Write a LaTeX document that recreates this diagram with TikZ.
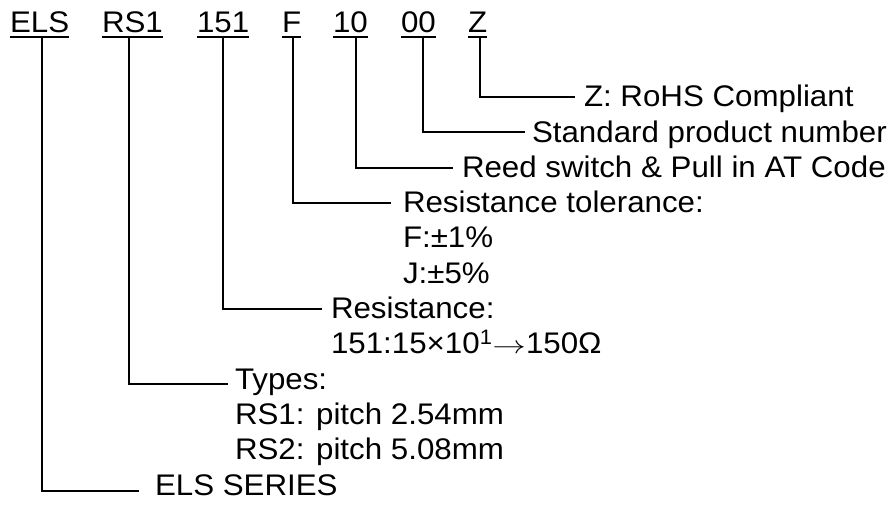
\documentclass[tikz,border=0pt]{standalone}
\usepackage{fontspec}
\setmainfont[FakeStretch=1.05]{Liberation Sans}
\begin{document}
\begin{tikzpicture}[x=1pt,y=-1pt,
  lbl/.style={inner sep=0pt,outer sep=0pt,anchor=base west,font=\fontsize{29.8}{35}\selectfont},
  conn/.style={line width=2pt,line cap=rect},
  uline/.style={line width=2.6pt}]
\useasboundingbox[fill=white] (0,0) rectangle (895,504);
% code labels
\node[lbl] (cELS) at (10,32.5) {ELS};
\node[lbl] (cRS)  at (102,32.5) {RS1};
\node[lbl] (c151) at (197,32.5) {151};
\node[lbl] (cF)   at (282,32.5) {F};
\node[lbl] (c10)  at (333,32.5) {10};
\node[lbl] (c00)  at (401,32.5) {00};
\node[lbl] (cZ)   at (468,32.5) {Z};
\foreach \n in {cELS,cRS,c151,cF,c10,c00,cZ}
  \draw[uline] ([yshift=-4.3pt]\n.base west) -- ([yshift=-4.3pt]\n.base east);
% descriptions
\node[lbl] (dZ)   at (584,106.7) {Z: RoHS Compliant};
\node[lbl] (dStd) at (532,142.0) {Standard product number};
\node[lbl] (dRd)  at (462,177.3) {Reed switch \& Pull in AT Code};
\node[lbl] (dTol) at (403,212.6) {Resistance tolerance:};
\node[lbl] (dTolF) at (403,247.9) {F:±1\%};
\node[lbl] (dTolJ) at (403,283.2) {J:±5\%};
\node[lbl] (dRes) at (331,318.5) {Resistance:};
\node[lbl] (dResV) at (331,353.8) {151:15×10\textsuperscript{1}\scalebox{1.35}[1]{$\rightarrow$}150Ω};
\node[lbl] (dTyp) at (235,389.1) {Types:};
\node[lbl] (dTyp1) at (235,424.4) {RS1: pitch 2.54mm};
\node[lbl] (dTyp2) at (235,459.7) {RS2: pitch 5.08mm};
\node[lbl] (dSer) at (155,495.0) {ELS SERIES};
% stem starts
\coordinate (sELS) at (42,37);
\coordinate (sRS)  at (129.3,37);
\coordinate (s151) at (223.3,37);
\coordinate (sF)   at (293.3,37);
\coordinate (s10)  at (356,37);
\coordinate (s00)  at (422.7,37);
\coordinate (sZ)   at (480,37);
% connector ends
\coordinate (eZ)   at (574,97);
\coordinate (eStd) at (524,132);
\coordinate (eRd)  at (452,168);
\coordinate (eTol) at (390,203);
\coordinate (eRes) at (321,309);
\coordinate (eTyp) at (227,384);
\coordinate (eSer) at (138,491);
\draw[conn] (sZ) |- (eZ);
\draw[conn] (s00) |- (eStd);
\draw[conn] (s10) |- (eRd);
\draw[conn] (sF) |- (eTol);
\draw[conn] (s151) |- (eRes);
\draw[conn] (sRS) |- (eTyp);
\draw[conn] (sELS) |- (eSer);
\end{tikzpicture}
\end{document}
